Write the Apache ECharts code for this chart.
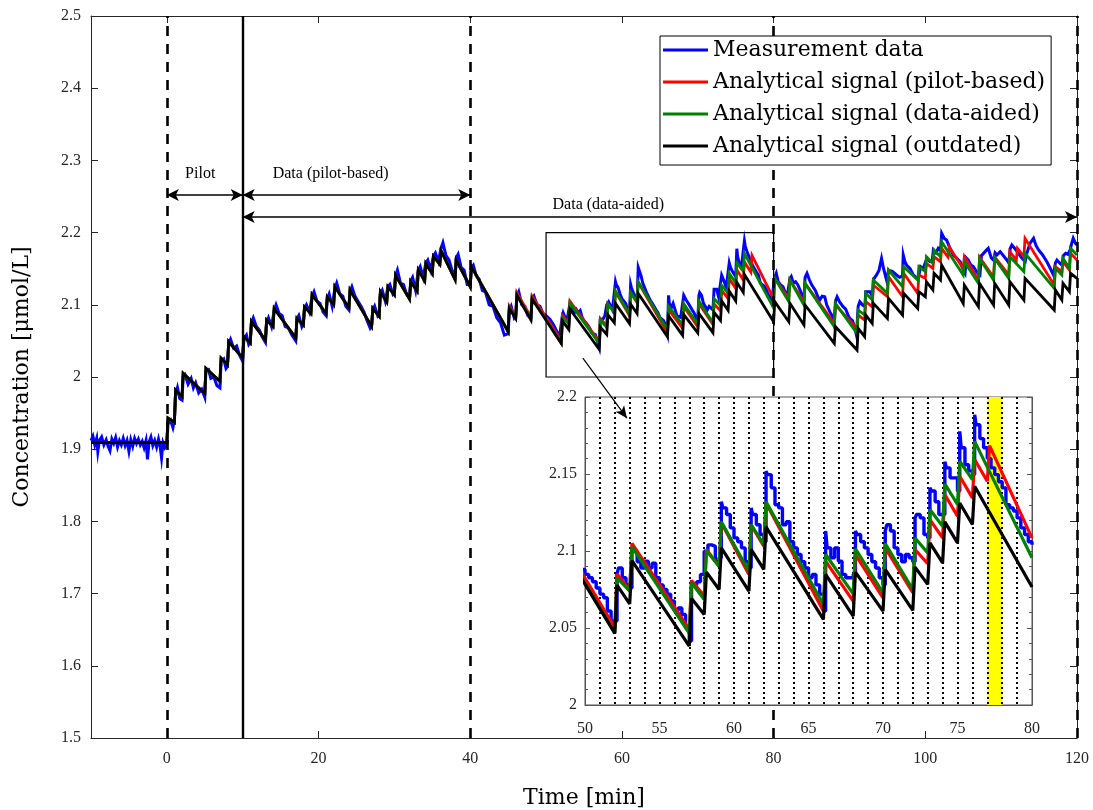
<!DOCTYPE html>
<html><head><meta charset="utf-8">
<script src="https://cdn.jsdelivr.net/npm/echarts@6/dist/echarts.min.js"></script>
<style>html,body{margin:0;padding:0;background:#fff}#c{width:1093px;height:810px}</style>
</head><body><div id="c"></div>
<script>
// ---------------- DATA ----------------
const xTickValues = [0, 20, 40, 60, 80, 100, 120];
const insetLabelStep = 5;
const dashedBoundaries = [0, 40, 80, 120];
const solidBoundaries = [10];
const phaseArrows = [
  {from: 0, to: 10, y: 2.252},
  {from: 10, to: 40, y: 2.252},
  {from: 10, to: 120, y: 2.2216}
];
const phaseLabels = [
  {text: 'Pilot', t: 4.4, v: 2.281},
  {text: 'Data (pilot-based)', t: 21.6, v: 2.281},
  {text: 'Data (data-aided)', t: 58.2, v: 2.239}
];
const zoomBox = {t0: 50, t1: 80, v0: 2.0, v1: 2.2};
const zoomArrow = {from: [54.85, 2.026], to: [60.66, 1.943]};
const highlightBand = [77, 78];

const measurementPre = [[-10,1.912],[-9.75,1.918],[-9.5,1.906],[-9.25,1.915],[-9.1,1.897],[-8.9,1.912],[-8.6,1.917],[-8.3,1.906],[-8.0,1.913],[-7.75,1.904],[-7.5,1.898],[-7.25,1.914],[-7.0,1.908],[-6.75,1.916],[-6.5,1.903],[-6.25,1.912],[-6.0,1.906],[-5.75,1.915],[-5.5,1.905],[-5.25,1.912],[-5.0,1.897],[-4.75,1.913],[-4.5,1.904],[-4.25,1.915],[-4.0,1.908],[-3.75,1.914],[-3.5,1.906],[-3.25,1.911],[-3.0,1.902],[-2.75,1.912],[-2.55,1.886],[-2.35,1.91],[-2.1,1.917],[-1.85,1.905],[-1.6,1.912],[-1.35,1.903],[-1.1,1.914],[-0.9,1.905],[-0.7,1.888],[-0.5,1.909],[-0.25,1.902],[0.0,1.906]];
const measurementEarly = [[0.15,1.935],[0.5,1.94],[0.8,1.93],[1.0,1.94],[1.15,1.975],[1.4,1.985],[1.7,1.97],[2.0,1.968],[2.15,2.0],[2.4,2.003],[2.8,1.99],[3.2,1.998],[3.5,1.985],[3.8,1.992],[4.2,1.978],[4.6,1.983],[5.0,1.972],[5.15,2.008],[5.5,2.01],[5.8,1.998],[6.2,2.0],[6.6,1.988],[7.0,1.985],[7.15,2.022],[7.5,2.025],[7.8,2.012],[8.0,2.015],[8.15,2.045],[8.4,2.052],[8.8,2.04],[9.2,2.043],[9.6,2.03],[10.0,2.022],[10.15,2.052],[10.5,2.058],[10.8,2.045],[11.0,2.048],[11.15,2.075],[11.4,2.082],[11.8,2.07],[12.2,2.065],[12.6,2.055],[13.0,2.048],[13.15,2.075],[13.4,2.082],[13.8,2.07],[14.0,2.072],[14.15,2.092],[14.4,2.1],[14.8,2.088],[15.2,2.085],[15.6,2.07],[16.0,2.068],[16.5,2.058],[17.0,2.05],[17.15,2.08],[17.4,2.085],[17.8,2.07],[18.0,2.075],[18.15,2.095],[18.4,2.1],[18.8,2.09],[19.0,2.092],[19.15,2.112],[19.4,2.118],[19.8,2.105],[20.2,2.102],[20.6,2.09],[21.0,2.085],[21.15,2.108],[21.4,2.115],[21.8,2.098],[22.0,2.1],[22.15,2.122],[22.4,2.13],[22.8,2.115],[23.2,2.112],[23.6,2.098],[24.0,2.093],[24.15,2.118],[24.4,2.125],[24.8,2.112],[25.2,2.105],[25.6,2.098],[26.0,2.09],[26.4,2.078],[26.8,2.068],[27.0,2.072],[27.15,2.092],[27.4,2.098],[27.8,2.085],[28.0,2.088],[28.15,2.115],[28.4,2.12],[28.8,2.105],[29.0,2.107],[29.15,2.125],[29.4,2.128],[29.8,2.115],[30.0,2.118],[30.15,2.14],[30.4,2.148],[30.8,2.13],[31.2,2.128],[31.6,2.115],[32.0,2.11],[32.15,2.133],[32.4,2.138],[32.8,2.12],[33.0,2.122],[33.15,2.148],[33.4,2.153],[33.8,2.138],[34.0,2.136],[34.15,2.158],[34.4,2.162],[34.8,2.148],[35.0,2.146],[35.15,2.168],[35.4,2.172],[35.8,2.16],[36.0,2.16],[36.15,2.178],[36.4,2.186],[36.8,2.168],[37.2,2.162],[37.6,2.148],[38.0,2.14],[38.15,2.165],[38.4,2.17],[38.8,2.152],[39.2,2.148],[39.6,2.128],[40.0,2.128],[40.15,2.152],[40.4,2.155],[40.8,2.14],[41.2,2.135],[41.6,2.12],[42.0,2.118],[42.5,2.1],[43.0,2.098],[43.5,2.082],[44.0,2.075],[44.5,2.058],[45.0,2.06],[45.15,2.092],[45.4,2.098],[45.8,2.082],[46.0,2.085],[46.15,2.112],[46.4,2.118],[46.8,2.1],[47.2,2.098],[47.6,2.085],[48.0,2.082],[48.15,2.108],[48.4,2.112],[48.8,2.1],[49.2,2.098],[49.6,2.088]];
const measurementZoom = [[50,2.0848],[50.25,2.0826],[50.5,2.080],[50.75,2.076],[51.0,2.072],[51.25,2.0696],[51.5,2.061],[51.75,2.0545],[52.0,2.0545],[52.15,2.085],[52.25,2.089],[52.5,2.0826],[52.75,2.078],[53.0,2.076],[53.15,2.102],[53.25,2.100],[53.5,2.093],[53.75,2.089],[54.0,2.0934],[54.25,2.089],[54.5,2.092],[54.75,2.0826],[55.0,2.078],[55.25,2.075],[55.5,2.072],[55.75,2.0675],[56.0,2.061],[56.25,2.063],[56.5,2.0588],[56.75,2.050],[57.0,2.0415],[57.15,2.080],[57.25,2.078],[57.5,2.080],[57.75,2.0848],[58.0,2.0999],[58.25,2.104],[58.5,2.103],[58.75,2.093],[59.0,2.0956],[59.15,2.132],[59.25,2.128],[59.5,2.1237],[59.75,2.115],[60.0,2.1085],[60.25,2.106],[60.5,2.102],[60.75,2.093],[61.0,2.089],[61.15,2.128],[61.25,2.1237],[61.5,2.117],[61.75,2.1107],[62.0,2.106],[62.15,2.1518],[62.25,2.1496],[62.5,2.141],[62.75,2.130],[63.0,2.128],[63.25,2.117],[63.5,2.119],[63.75,2.106],[64.0,2.102],[64.25,2.0977],[64.5,2.093],[64.75,2.089],[65.0,2.0826],[65.25,2.0848],[65.5,2.078],[65.75,2.072],[66.0,2.061],[66.15,2.113],[66.25,2.102],[66.5,2.0956],[66.75,2.102],[67.0,2.0934],[67.25,2.0848],[67.5,2.0826],[67.75,2.0826],[68.0,2.0848],[68.15,2.113],[68.25,2.1107],[68.5,2.106],[68.75,2.102],[69.0,2.0977],[69.25,2.093],[69.5,2.089],[69.75,2.0826],[70.0,2.078],[70.15,2.113],[70.25,2.117],[70.5,2.113],[70.75,2.102],[71.0,2.0977],[71.25,2.093],[71.5,2.0977],[71.75,2.0956],[72.0,2.093],[72.15,2.1215],[72.25,2.1237],[72.5,2.1215],[72.75,2.1107],[73.0,2.1085],[73.15,2.141],[73.25,2.139],[73.5,2.132],[73.75,2.1237],[74.0,2.1237],[74.15,2.158],[74.25,2.154],[74.5,2.1475],[74.75,2.1475],[75.0,2.139],[75.15,2.1777],[75.25,2.167],[75.5,2.156],[75.75,2.152],[76.0,2.1496],[76.15,2.1885],[76.25,2.182],[76.5,2.173],[76.75,2.167],[77.0,2.160],[77.25,2.154],[77.5,2.1496],[77.75,2.145],[78.0,2.141],[78.25,2.130],[78.5,2.128],[78.75,2.126],[79.0,2.1215],[79.25,2.115],[79.5,2.1107],[79.75,2.106]];
const measurementLate = [[80.0,2.104],[80.15,2.138],[80.35,2.1436],[80.6,2.132],[80.9,2.128],[81.23,2.1251],[81.5,2.118],[81.8,2.113],[82.0,2.1112],[82.15,2.136],[82.33,2.139],[82.6,2.13],[82.9,2.132],[83.2,2.1274],[83.5,2.12],[83.8,2.112],[84.0,2.108],[84.15,2.138],[84.4,2.1436],[84.7,2.135],[85.0,2.128],[85.2,2.1297],[85.5,2.12],[85.8,2.112],[86.08,2.1066],[86.4,2.112],[86.74,2.1111],[87.0,2.1],[87.4,2.0905],[87.7,2.085],[88.0,2.072],[88.15,2.105],[88.37,2.1112],[88.7,2.104],[89.16,2.0974],[89.5,2.094],[89.8,2.086],[90.04,2.0812],[90.4,2.078],[90.7,2.068],[90.92,2.058],[91.15,2.098],[91.36,2.1043],[91.7,2.1],[92.03,2.0974],[92.15,2.118],[92.33,2.1205],[92.7,2.118],[93.04,2.1112],[93.15,2.135],[93.57,2.1413],[93.9,2.148],[94.23,2.1643],[94.5,2.15],[94.89,2.1343],[95.15,2.148],[95.33,2.1505],[95.7,2.146],[96.21,2.1413],[96.6,2.138],[97.0,2.14],[97.09,2.169],[97.3,2.16],[97.53,2.1551],[98.0,2.15],[98.41,2.1413],[98.8,2.138],[99.07,2.1367],[99.38,2.1528],[99.7,2.15],[99.96,2.1482],[100.2,2.1643],[100.6,2.16],[100.9,2.1597],[101.06,2.1759],[101.4,2.172],[101.7,2.1782],[102.0,2.175],[102.16,2.199],[102.5,2.192],[102.8,2.1897],[103.2,2.18],[103.7,2.169],[104.1,2.165],[104.6,2.1597],[105.0,2.148],[105.24,2.1436],[105.4,2.165],[105.68,2.162],[106.0,2.155],[106.34,2.1528],[106.8,2.145],[107.2,2.1413],[107.4,2.168],[107.66,2.169],[108.0,2.175],[108.3,2.1782],[108.7,2.165],[108.99,2.162],[109.2,2.172],[109.43,2.169],[109.87,2.1736],[110.3,2.168],[110.75,2.162],[111.0,2.158],[111.2,2.178],[111.41,2.1828],[111.8,2.178],[112.29,2.1713],[112.7,2.165],[113.17,2.1597],[113.39,2.1713],[113.8,2.185],[114.27,2.192],[114.6,2.182],[114.93,2.1759],[115.4,2.17],[116.03,2.1597],[116.5,2.15],[116.9,2.1413],[117.15,2.158],[117.35,2.162],[117.7,2.158],[118.0,2.1551],[118.2,2.168],[118.5,2.1713],[118.8,2.17],[119.1,2.176],[119.3,2.185],[119.5,2.192],[119.8,2.185],[120.0,2.183]];

// analytical signals coincide up to t = 45
const analyticShared = [[-10,1.909],[0,1.909],[0.15,1.943],[1.0,1.937],[1.15,1.982],[2.0,1.973],[2.15,2.005],[5.0,1.977],[5.15,2.012],[7.0,1.994],[7.15,2.026],[8.0,2.017],[8.15,2.049],[10.0,2.026],[10.15,2.056],[11.0,2.047],[11.15,2.077],[13.0,2.051],[13.15,2.079],[14.0,2.070],[14.15,2.095],[17.0,2.054],[17.15,2.081],[18.0,2.072],[18.15,2.097],[19.0,2.088],[19.15,2.114],[21.0,2.088],[21.15,2.111],[22.0,2.100],[22.15,2.125],[24.0,2.096],[24.15,2.1205],[27.0,2.070],[27.15,2.095],[28.0,2.084],[28.15,2.118],[29.0,2.104],[29.15,2.125],[30.0,2.114],[30.15,2.141],[32.0,2.108],[32.15,2.132],[33.0,2.119],[33.15,2.148],[34.0,2.133],[34.15,2.157],[35.0,2.143],[35.15,2.167],[36.0,2.156],[36.15,2.175],[38.0,2.135],[38.15,2.162],[40.0,2.125],[40.15,2.153],[45.0,2.063]];
const pilotBasedTail = [[45.15,2.098],[46.0,2.084],[46.15,2.117],[48.0,2.083],[48.15,2.112],[52.0,2.0502],[52.15,2.0852],[53.0,2.0744],[53.15,2.1049],[57.0,2.0491],[57.15,2.0809],[58.0,2.0707],[58.15,2.101],[59.0,2.090],[59.15,2.1183],[61.0,2.0848],[61.15,2.1168],[62.0,2.1031],[62.15,2.1312],[66.0,2.061],[66.15,2.0934],[68.0,2.0675],[68.15,2.0977],[70.0,2.0696],[70.15,2.102],[72.0,2.0729],[72.15,2.101],[73.0,2.0917],[73.15,2.1204],[74.0,2.1085],[74.15,2.1366],[75.0,2.1226],[75.15,2.1485],[76.0,2.1345],[76.15,2.1594],[77.0,2.1453],[77.15,2.1684],[80.0,2.1085],[80.15,2.1367],[82.0,2.109],[82.15,2.1343],[84.0,2.1043],[84.15,2.1297],[88.0,2.0743],[88.15,2.0997],[91.0,2.0674],[91.15,2.0858],[92.0,2.0789],[92.15,2.1043],[93.0,2.0974],[93.15,2.1274],[95.0,2.1112],[95.15,2.139],[97.0,2.1112],[97.15,2.1436],[99.0,2.1159],[99.15,2.1413],[100.0,2.1367],[100.15,2.1574],[101.0,2.1505],[101.15,2.1666],[102.0,2.1597],[102.15,2.1782],[103.0,2.166],[103.15,2.18],[105.0,2.15],[105.15,2.1667],[107.0,2.1343],[107.15,2.166],[109.0,2.138],[109.15,2.166],[111.0,2.1413],[111.15,2.1736],[112.0,2.162],[112.15,2.1782],[113.0,2.1666],[113.15,2.192],[117.0,2.1274],[117.15,2.1528],[118.0,2.1459],[118.15,2.1597],[119.0,2.1482],[119.15,2.1713],[120.0,2.162]];
const dataAidedTail = [[45.15,2.096],[46.0,2.082],[46.15,2.114],[48.0,2.080],[48.15,2.109],[52.0,2.0469],[52.15,2.0826],[53.0,2.074],[53.15,2.1027],[57.0,2.0465],[57.15,2.0794],[58.0,2.0685],[58.15,2.1003],[59.0,2.090],[59.15,2.1189],[61.0,2.0869],[61.15,2.1172],[62.0,2.1042],[62.15,2.1319],[66.0,2.0653],[66.15,2.0977],[68.0,2.0722],[68.15,2.1014],[70.0,2.0729],[70.15,2.1049],[72.0,2.075],[72.15,2.1085],[73.0,2.0988],[73.15,2.1269],[74.0,2.1161],[74.15,2.1436],[75.0,2.1302],[75.15,2.1583],[76.0,2.1464],[76.15,2.1712],[80.0,2.0956],[80.15,2.1367],[82.0,2.1043],[82.15,2.1343],[84.0,2.0997],[84.15,2.1297],[88.0,2.0697],[88.15,2.102],[91.0,2.0605],[91.15,2.0928],[92.0,2.0858],[92.15,2.1159],[93.0,2.1066],[93.15,2.1343],[95.0,2.1159],[95.15,2.1482],[97.0,2.1251],[97.15,2.1528],[99.0,2.1343],[99.15,2.1528],[100.0,2.1459],[100.15,2.1666],[101.0,2.1574],[101.15,2.1759],[102.0,2.1666],[102.15,2.1874],[105.0,2.1413],[105.15,2.1597],[107.0,2.1297],[107.15,2.1643],[109.0,2.1343],[109.15,2.1643],[111.0,2.1367],[111.15,2.1666],[113.0,2.1459],[113.15,2.1713],[117.0,2.1228],[117.15,2.1505],[118.0,2.1413],[118.15,2.1643],[119.0,2.1505],[119.15,2.1782],[120.0,2.169]];
const outdatedTail = [[45.15,2.095],[46.0,2.081],[46.15,2.113],[48.0,2.079],[48.15,2.108],[52.0,2.0465],[52.15,2.0778],[53.0,2.0657],[53.15,2.0938],[57.0,2.0383],[57.15,2.0692],[58.0,2.0588],[58.15,2.0863],[59.0,2.075],[59.15,2.102],[61.0,2.074],[61.15,2.101],[62.0,2.088],[62.15,2.1157],[66.0,2.0556],[66.15,2.0848],[68.0,2.0577],[68.15,2.0863],[70.0,2.061],[70.15,2.088],[72.0,2.0614],[72.15,2.0895],[73.0,2.0783],[73.15,2.1053],[74.0,2.0923],[74.15,2.1189],[75.0,2.1053],[75.15,2.1312],[76.0,2.1172],[76.15,2.142],[80.0,2.0766],[80.15,2.1043],[82.0,2.0766],[82.15,2.102],[84.0,2.072],[84.15,2.0997],[88.0,2.0466],[88.15,2.0697],[91.0,2.0374],[91.15,2.0674],[92.0,2.0558],[92.15,2.0858],[93.0,2.0743],[93.15,2.102],[95.0,2.0812],[95.15,2.109],[97.0,2.0858],[97.15,2.1159],[99.0,2.095],[99.15,2.1182],[100.0,2.1112],[100.15,2.132],[101.0,2.1205],[101.15,2.1436],[102.0,2.1343],[102.15,2.1551],[105.0,2.102],[105.15,2.1274],[107.0,2.0974],[107.15,2.1297],[109.0,2.0997],[109.15,2.1297],[111.0,2.0997],[111.15,2.132],[113.0,2.1066],[113.15,2.1367],[117.0,2.0928],[117.15,2.1205],[118.0,2.1066],[118.15,2.1297],[119.0,2.1182],[119.15,2.1436],[120.0,2.1367]];

// ---------------- BUILD ----------------
const measurement = measurementPre.concat(measurementEarly, measurementZoom, measurementLate);
const pilotBased = analyticShared.concat(pilotBasedTail);
const dataAided = analyticShared.concat(dataAidedTail);
const outdated = analyticShared.concat(outdatedTail);

const NAMES = ['Measurement data', 'Analytical signal (pilot-based)', 'Analytical signal (data-aided)', 'Analytical signal (outdated)'];
const COLORS = ['#0000ff', '#ff0000', '#008000', '#000000'];
const SERIES_DATA = [measurement, pilotBased, dataAided, outdated];
// the inset shows the same data, restricted to the zoom window
const INSET_DATA = SERIES_DATA.map(arr => arr.filter(p => p[0] >= zoomBox.t0 - 2.5 && p[0] <= zoomBox.t1));
const TICK_FONT = 'Liberation Serif';
const TEXT_FONT = 'DejaVu Serif';
const AX = '#262626';

function lineSeries(i, xi, yi, z, extra) {
  return Object.assign({
    type: 'line', name: NAMES[i], data: SERIES_DATA[i], xAxisIndex: xi, yAxisIndex: yi,
    symbol: 'none', showSymbol: false, z: z, silent: true,
    lineStyle: {color: COLORS[i], width: i === 0 ? 3 : 2.8, join: 'miter'},
    itemStyle: {color: COLORS[i]}, emphasis: {disabled: true}
  }, extra || {});
}

const dashStyle = {color: '#000', width: 2.6, type: [10, 8]};
const solidStyle = {color: '#000', width: 2.4, type: 'solid'};
const guideLines = dashedBoundaries.map(t => ({xAxis: t, lineStyle: dashStyle}))
  .concat(solidBoundaries.map(t => ({xAxis: t, lineStyle: solidStyle})));
const arrowLines = phaseArrows.map(a => [
  {coord: [a.from, a.y], symbol: 'arrow', symbolSize: [9, 12]},
  {coord: [a.to, a.y], symbol: 'arrow', symbolSize: [9, 12], lineStyle: {color: '#000', width: 1.5, type: 'solid'}}
]);

const option = {
  animation: false,
  backgroundColor: '#fff',
  grid: [
    {left: 91, top: 16, width: 986, height: 722, show: false, containLabel: false, outerBoundsMode: 'none'},
    {left: 585, top: 397, width: 447, height: 308, show: true, backgroundColor: '#fff', borderColor: '#555', borderWidth: 1, z: 10, containLabel: false, outerBoundsMode: 'none'}
  ],
  legend: {
    data: NAMES, orient: 'vertical', left: 660, top: 36, z: 50,
    itemWidth: 45, itemHeight: 14, itemGap: 10, padding: [3, 6, 8, 3],
    backgroundColor: '#fff', borderColor: '#000', borderWidth: 1, borderRadius: 0,
    selectedMode: false, icon: 'path://M0,0 L45,0 L45,3 L0,3 Z',
    textStyle: {fontFamily: TEXT_FONT, fontSize: 22, color: '#000'}
  },
  xAxis: [
    {gridIndex: 0, type: 'value', min: -10, max: 120,
      axisLine: {onZero: false, lineStyle: {color: AX, width: 1}},
      axisTick: {inside: true, length: 7, customValues: xTickValues, lineStyle: {color: AX}},
      axisLabel: {customValues: xTickValues, margin: 13, fontFamily: TICK_FONT, fontSize: 16, color: AX},
      splitLine: {show: false},
      name: 'Time [min]', nameLocation: 'middle', nameGap: 49,
      nameTextStyle: {fontFamily: TEXT_FONT, fontSize: 22, color: '#000'}},
    {gridIndex: 0, type: 'value', min: -10, max: 120, position: 'top',
      axisLine: {onZero: false, lineStyle: {color: AX, width: 1}},
      axisTick: {inside: true, length: 7, customValues: xTickValues, lineStyle: {color: AX}},
      axisLabel: {show: false}, splitLine: {show: false}},
    {gridIndex: 1, type: 'value', min: 50, max: 80, interval: 1, z: 11,
      axisLine: {onZero: false, lineStyle: {color: '#555', width: 1}},
      axisTick: {show: false},
      axisLabel: {interval: 0, margin: 16, fontFamily: TICK_FONT, fontSize: 16, color: AX,
        formatter: v => (Math.round(v) % insetLabelStep === 0 ? String(Math.round(v)) : '')},
      splitLine: {show: true, showMinLine: false, showMaxLine: false, lineStyle: {color: '#000', width: 2, type: [2, 3]}}}
  ],
  yAxis: [
    {gridIndex: 0, type: 'value', min: 1.5, max: 2.5, interval: 0.1,
      axisLine: {onZero: false, lineStyle: {color: AX, width: 1}},
      axisTick: {inside: true, length: 7, lineStyle: {color: AX}},
      axisLabel: {margin: 10, fontFamily: TICK_FONT, fontSize: 16, color: AX},
      splitLine: {show: false},
      name: 'Concentration [\u03bcmol/L]', nameLocation: 'middle', nameGap: 58,
      nameTextStyle: {fontFamily: TEXT_FONT, fontSize: 22, color: '#000'}},
    {gridIndex: 0, type: 'value', min: 1.5, max: 2.5, interval: 0.1, position: 'right',
      axisLine: {onZero: false, lineStyle: {color: AX, width: 1}},
      axisTick: {inside: true, length: 7, lineStyle: {color: AX}},
      axisLabel: {show: false}, splitLine: {show: false}},
    {gridIndex: 1, type: 'value', min: 2.0, max: 2.2, interval: 0.05, z: 11,
      axisLine: {onZero: false, lineStyle: {color: '#555', width: 1}},
      axisTick: {inside: true, length: 5, lineStyle: {color: '#555'}},
      minorTick: {show: true, splitNumber: 5, length: 3, lineStyle: {color: '#555'}},
      axisLabel: {margin: 8, fontFamily: TICK_FONT, fontSize: 16, color: AX},
      splitLine: {show: false}},
    {gridIndex: 1, type: 'value', min: 2.0, max: 2.2, interval: 0.05, position: 'right', z: 11,
      axisLine: {onZero: false, lineStyle: {color: '#555', width: 1}},
      axisTick: {inside: true, length: 5, lineStyle: {color: '#555'}},
      minorTick: {show: true, splitNumber: 5, length: 3, lineStyle: {color: '#555'}},
      axisLabel: {show: false}, splitLine: {show: false}}
  ],
  series: [
    // main plot
    lineSeries(0, 0, 0, 2),
    lineSeries(1, 0, 0, 2.1),
    lineSeries(2, 0, 0, 2.2),
    lineSeries(3, 0, 0, 2.3),
    {type: 'line', name: 'guides', data: [], xAxisIndex: 0, yAxisIndex: 0, z: 3, silent: true,
      markLine: {silent: true, z: 5, symbol: ['none', 'none'], label: {show: false}, animation: false,
        lineStyle: {color: '#000', width: 1.5, type: 'solid'},
        emphasis: {disabled: true},
        data: guideLines.concat(arrowLines)},
      markArea: {silent: true, z: 5, itemStyle: {color: 'rgba(0,0,0,0)', borderColor: '#000', borderWidth: 1.2},
        data: [[{coord: [zoomBox.t0, zoomBox.v0]}, {coord: [zoomBox.t1, zoomBox.v1]}]]},
      markPoint: {silent: true, z: 6, symbol: 'circle', symbolSize: 0,
        label: {show: true, position: 'inside', formatter: '{b}', fontFamily: TICK_FONT, fontSize: 16, color: '#000'},
        data: phaseLabels.map(p => ({name: p.text, coord: [p.t, p.v]}))}
    },
    {type: 'line', name: 'zoomArrow', data: [], xAxisIndex: 0, yAxisIndex: 0, z: 40, silent: true,
      markLine: {silent: true, z: 40, symbol: ['none', 'arrow'], symbolSize: [8, 12], label: {show: false},
        lineStyle: {color: '#000', width: 1.2, type: 'solid'},
        data: [[{coord: zoomArrow.from}, {coord: zoomArrow.to}]]}
    },
    // inset
    {type: 'line', name: 'band', data: [], xAxisIndex: 2, yAxisIndex: 2, z: 10.5, silent: true,
      markArea: {silent: true, z: 10.5, itemStyle: {color: '#ffff00', opacity: 1},
        data: [[{xAxis: highlightBand[0]}, {xAxis: highlightBand[1]}]]}},
    lineSeries(0, 2, 2, 12, {data: INSET_DATA[0], step: 'end', lineStyle: {color: COLORS[0], width: 3.4}}),
    lineSeries(1, 2, 2, 13, {data: INSET_DATA[1], lineStyle: {color: COLORS[1], width: 3.2}}),
    lineSeries(2, 2, 2, 14, {data: INSET_DATA[2], lineStyle: {color: COLORS[2], width: 3.2}}),
    lineSeries(3, 2, 2, 15, {data: INSET_DATA[3], lineStyle: {color: COLORS[3], width: 3.2}})
  ]
};

const chart = echarts.init(document.getElementById('c'), null, {renderer: 'canvas'});
chart.setOption(option);
</script></body></html>
